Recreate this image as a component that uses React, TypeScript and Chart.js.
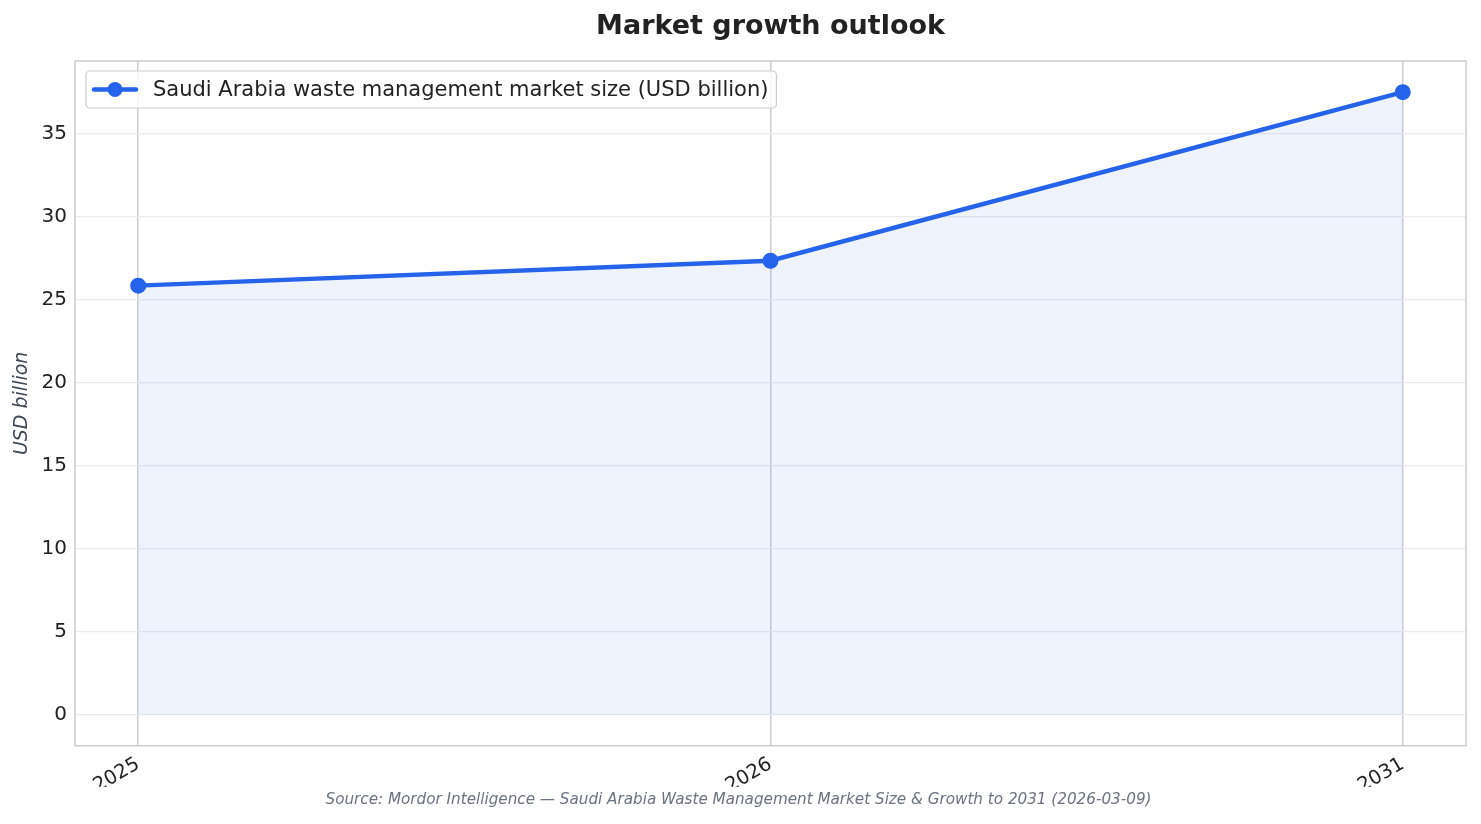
import React, { useRef, useEffect } from "react";
import { Chart, registerables, Plugin } from "chart.js";

Chart.register(...registerables);

const FONT = "'DejaVu Sans', sans-serif";
const LINE_COLOR = "#2563EB";

const years = ["2025", "2026", "2031"];
const marketSize = [25.86, 27.36, 37.52];
const yTicks = [0, 5, 10, 15, 20, 25, 30, 35];
const chartTitle = "Market growth outlook";
const seriesLabel = "Saudi Arabia waste management market size (USD billion)";
const sourceText =
  "Source: Mordor Intelligence \u2014 Saudi Arabia Waste Management Market Size & Growth to 2031 (2026-03-09)";

// plot frame, title centred over the axes and legend inside the plot (matplotlib style)
const framePlugin: Plugin<"line"> = {
  id: "frame",
  afterDraw(chart) {
    const { ctx, chartArea } = chart;
    ctx.save();
    ctx.strokeStyle = "#cccccc";
    ctx.lineWidth = 1.5;
    ctx.strokeRect(chartArea.left, chartArea.top, chartArea.right - chartArea.left, chartArea.bottom - chartArea.top);

    // title
    ctx.font = `bold 27px ${FONT}`;
    ctx.fillStyle = "#222222";
    ctx.textAlign = "center";
    ctx.textBaseline = "middle";
    ctx.fillText(chartTitle, (chartArea.left + chartArea.right) / 2, 27);

    // legend box
    const label = chart.data.datasets[0].label || "";
    ctx.font = `21px ${FONT}`;
    const tw = ctx.measureText(label).width;
    const x0 = chartArea.left + 11;
    const y0 = chartArea.top + 10;
    const w = 67 + tw + 8;
    const h = 37;
    ctx.fillStyle = "rgba(255,255,255,0.85)";
    ctx.strokeStyle = "#cccccc";
    ctx.lineWidth = 1.2;
    ctx.beginPath();
    ctx.roundRect(x0, y0, w, h, 4);
    ctx.fill();
    ctx.stroke();
    const cy = y0 + h / 2;
    ctx.strokeStyle = LINE_COLOR;
    ctx.lineWidth = 4.5;
    ctx.lineCap = "round";
    ctx.beginPath();
    ctx.moveTo(x0 + 8, cy);
    ctx.lineTo(x0 + 50, cy);
    ctx.stroke();
    ctx.fillStyle = LINE_COLOR;
    ctx.beginPath();
    ctx.arc(x0 + 29, cy, 7.5, 0, Math.PI * 2);
    ctx.fill();
    ctx.fillStyle = "#222222";
    ctx.textBaseline = "middle";
    ctx.textAlign = "left";
    ctx.fillText(label, x0 + 67, cy + 1);
    ctx.restore();
  },
};

const App: React.FC = () => {
  const canvasRef = useRef<HTMLCanvasElement | null>(null);
  const chartRef = useRef<Chart | null>(null);

  useEffect(() => {
    document.body.style.margin = "0";
    if (!canvasRef.current) return;
    const ctx = canvasRef.current.getContext("2d");
    if (!ctx) return;

    chartRef.current = new Chart(ctx, {
      type: "line",
      data: {
        datasets: [
          {
            label: seriesLabel,
            data: marketSize.map((v, i) => ({ x: i, y: v })),
            borderColor: LINE_COLOR,
            backgroundColor: "rgba(37,99,235,0.08)",
            borderWidth: 4.5,
            pointRadius: 8,
            pointHoverRadius: 8,
            pointBackgroundColor: LINE_COLOR,
            pointBorderWidth: 0,
            fill: "origin",
            tension: 0,
          },
        ],
      },
      options: {
        responsive: false,
        animation: false,
        layout: { padding: { left: 11, right: 15, top: 61, bottom: 0 } },
        plugins: {
          legend: { display: false },
          tooltip: { enabled: false },
          title: { display: false },
          subtitle: {
            display: true,
            position: "bottom",
            text: sourceText,
            color: "#6b7280",
            font: { family: FONT, size: 15.2, style: "italic" },
            padding: { top: 4, bottom: 15 },
          },
        },
        scales: {
          x: {
            type: "linear",
            min: -0.1,
            max: years.length - 1 + 0.1,
            afterBuildTicks(scale) {
              scale.ticks = years.map((_, i) => ({ value: i }));
            },
            grid: { color: "#c9ccd4", lineWidth: 1.5, drawTicks: false },
            border: { display: false },
            ticks: {
              color: "#222222",
              font: { family: FONT, size: 19.5 },
              maxRotation: 30,
              minRotation: 30,
              padding: 7,
              callback: (v) => years[Number(v)] ?? "",
            },
            afterFit(scale) {
              scale.height = 41;
            },
          },
          y: {
            min: -1.876,
            max: 39.4,
            afterBuildTicks(scale) {
              scale.ticks = yTicks.map((v) => ({ value: v }));
            },
            grid: { color: "#ebebeb", lineWidth: 1.2, drawTicks: false },
            border: { display: false },
            ticks: {
              color: "#222222",
              font: { family: FONT, size: 20 },
              padding: 8,
            },
            title: {
              display: true,
              text: "USD billion",
              color: "#3f4654",
              font: { family: FONT, size: 19, style: "italic" },
              padding: { top: 0, bottom: 4 },
            },
            afterFit(scale) {
              scale.width = 64;
            },
          },
        },
      },
      plugins: [framePlugin],
    });

    return () => {
      chartRef.current?.destroy();
    };
  }, []);

  return (
    <div style={{ position: "absolute", left: 0, top: 0, width: 1481, height: 824 }}>
      <canvas ref={canvasRef} width={1481} height={824} style={{ width: 1481, height: 824 }}></canvas>
    </div>
  );
};

export default App;
